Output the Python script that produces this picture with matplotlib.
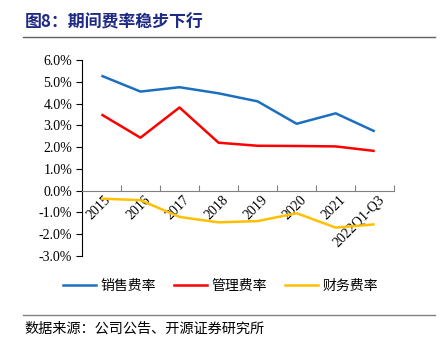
import matplotlib
matplotlib.use("Agg")
import matplotlib.pyplot as plt
from matplotlib.lines import Line2D
import numpy as np

categories = ["2015", "2016", "2017", "2018", "2019", "2020", "2021", "2022Q1-Q3"]
sales_rate = [5.28, 4.55, 4.75, 4.47, 4.10, 3.07, 3.55, 2.72]
admin_rate = [3.50, 2.43, 3.82, 2.20, 2.06, 2.05, 2.03, 1.82]
fin_rate = [-0.37, -0.44, -1.21, -1.46, -1.40, -1.04, -1.70, -1.55]
series_names = ["销售费率", "管理费率", "财务费率"]
y_ticks = [-3, -2, -1, 0, 1, 2, 3, 4, 5, 6]

cjk = ["Noto Sans CJK SC", "DejaVu Sans"]
serif = ["Liberation Serif", "DejaVu Serif"]

fig = plt.figure(figsize=(4.45, 3.51), dpi=100)
ax = fig.add_axes([0.184, 0.271, 0.702, 0.558])

x = np.arange(len(categories))
colors = ["#1C6FBF", "#FF0000", "#FFC000"]
for vals, c, n in zip([sales_rate, admin_rate, fin_rate], colors, series_names):
    ax.plot(x, vals, color=c, lw=1.8, label=n, solid_capstyle="butt")

ax.set_xlim(-0.5, len(categories) - 0.5)
ax.set_ylim(-3, 6)
ax.set_yticks(y_ticks)
ax.set_yticklabels([f"{v:.1f}%" for v in y_ticks], fontfamily=serif, fontsize=10)
ax.tick_params(axis="y", direction="out", length=4, width=0.8, pad=3)

ax.spines["top"].set_visible(False)
ax.spines["right"].set_visible(False)
ax.spines["bottom"].set_position(("data", 0))
ax.spines["bottom"].set_color("#808080")
ax.spines["left"].set_color("black")

ax.set_xticks(x)
ax.set_xticklabels(categories, rotation=45, ha="right", va="top",
                   rotation_mode="anchor", fontfamily=serif, fontsize=10)
ax.tick_params(axis="x", which="major", length=0, pad=2)
ax.set_xticks(np.arange(len(categories) + 1) - 0.5, minor=True)
ax.tick_params(axis="x", which="minor", direction="in", length=4, width=0.8, color="#808080")
for lab in ax.get_xticklabels():
    lab.set_transform(lab.get_transform() + matplotlib.transforms.ScaledTranslation(0.03, 0, fig.dpi_scale_trans))

# Title
fig.text(0.056, 0.937, "图8：期间费率稳步下行", fontfamily=cjk, fontsize=12.2,
         fontweight="bold", color="#1F2A84", va="center", ha="left")
fig.add_artist(Line2D([0.052, 0.978], [0.895, 0.895], color="#606060", lw=1.0,
                      transform=fig.transFigure))

# Legend
handles = [Line2D([], [], color=c, lw=1.8) for c in colors]
fig.legend(handles, series_names, loc="center", bbox_to_anchor=(0.495, 0.185), ncol=3,
           frameon=False, prop={"family": cjk, "size": 10}, handlelength=2.4,
           columnspacing=1.3, handletextpad=0.3)

fig.add_artist(Line2D([0.052, 0.978], [0.103, 0.103], color="#808080", lw=1.0,
                      transform=fig.transFigure))
fig.text(0.056, 0.065, "数据来源：公司公告、开源证券研究所", fontfamily=cjk, fontsize=10.2,
         color="#000000", va="center", ha="left")

fig.savefig("out.png", dpi=100)
